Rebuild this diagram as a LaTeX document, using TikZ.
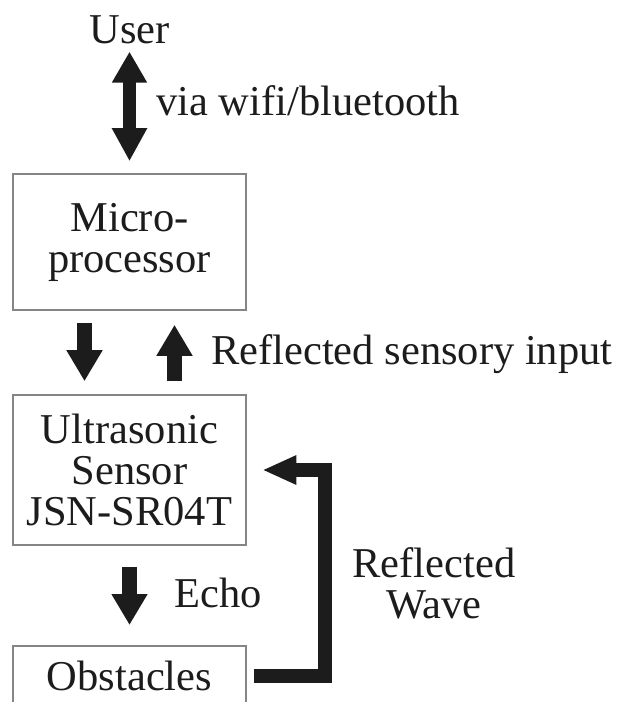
\documentclass[tikz,border=0pt]{standalone}
\usepackage{fontspec}
\setmainfont{Liberation Serif}
\usetikzlibrary{arrows.meta,calc}
\definecolor{txt}{HTML}{1C1C1C}
\definecolor{frame}{HTML}{858585}
\begin{document}
\begin{tikzpicture}[x=1pt,y=-1pt,
  every node/.style={font=\fontsize{42.5}{41}\selectfont, text=txt, inner sep=0pt},
  box/.style={draw=frame, line width=1.6pt, minimum width=233pt, align=center},
  fat/.style={line width=15pt, draw=txt, -{Triangle[length=31pt,width=34pt]}},
  dbl/.style={line width=13pt, draw=txt, {Triangle[length=31pt,width=33pt]}-{Triangle[length=33pt,width=33pt]}},
  loopback/.style={line width=14pt, draw=txt, line join=miter, -{Triangle[length=34pt,width=27pt]}}]
\useasboundingbox (0,0) rectangle (620,702);

\node[anchor=base] (user) at (129.5,43) {User};
\node[box, minimum height=136pt] (mp) at (129.5,242) {Micro-\\processor};
\node[box, minimum height=150pt] (us) at (129.5,470) {Ultrasonic\\Sensor\\JSN-SR04T};
\node[box, anchor=north, text height=29pt, text depth=0pt, inner ysep=16pt] (obs) at (129.5,645) {Obstacles};

\node[anchor=base west] (wifi) at (156,115) {via wifi/bluetooth};
\node[anchor=base west] (rsi) at (211,364) {Reflected sensory input};
\node[anchor=base west] (echo) at (174,607) {Echo};
\node[align=center] (rw) at (434,583) {Reflected\\Wave};

\draw[dbl] ([yshift=-8pt]user.south) -- ([yshift=12pt]mp.north);
\draw[fat] ([xshift=-45pt,yshift=-12pt]mp.south) -- ([xshift=-45pt,yshift=13pt]us.north);
\draw[fat] ([xshift=45pt,yshift=13pt]us.north) -- ([xshift=45pt,yshift=-14pt]mp.south);
\draw[fat] ([yshift=-21pt]us.south) -- ([yshift=20pt]obs.north);
\draw[loopback] ([xshift=7.5pt]obs.east) -- ++(71,0) |- ([xshift=15.5pt]us.east);
\end{tikzpicture}
\end{document}
